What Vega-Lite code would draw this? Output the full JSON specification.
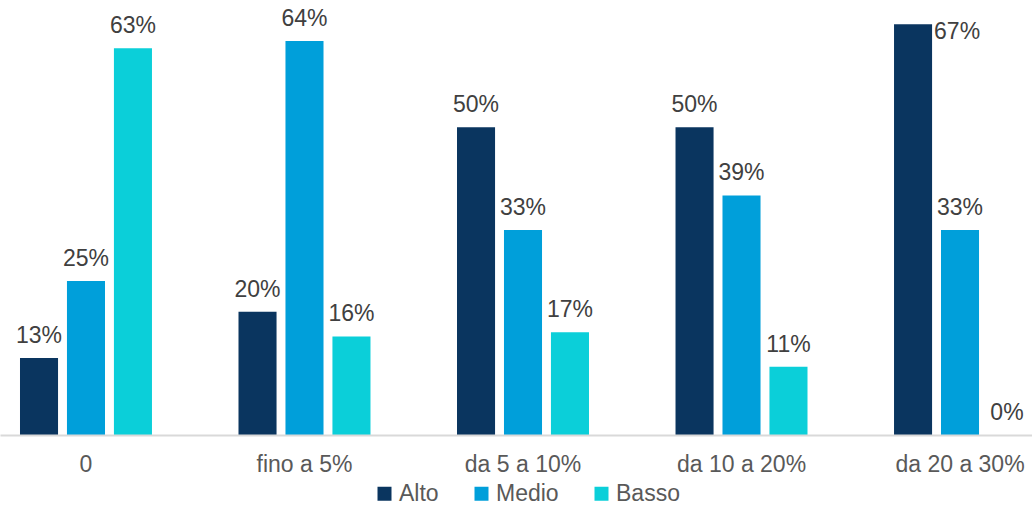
{
  "$schema": "https://vega.github.io/schema/vega-lite/v6.json",
  "width": 1032,
  "height": 431,
  "autosize": {"type": "none"},
  "padding": {"left": 0, "top": 4, "right": 0, "bottom": 70},
  "background": "white",
  "config": {"view": {"stroke": null}, "font": "Liberation Sans"},
  "data": {
    "values": [
      {"cat": "0", "level": "Alto", "value": 0.125},
      {"cat": "0", "level": "Medio", "value": 0.25},
      {"cat": "0", "level": "Basso", "value": 0.628},
      {"cat": "fino a 5%", "level": "Alto", "value": 0.2},
      {"cat": "fino a 5%", "level": "Medio", "value": 0.64},
      {"cat": "fino a 5%", "level": "Basso", "value": 0.16},
      {"cat": "da 5 a 10%", "level": "Alto", "value": 0.5},
      {"cat": "da 5 a 10%", "level": "Medio", "value": 0.333},
      {"cat": "da 5 a 10%", "level": "Basso", "value": 0.167},
      {"cat": "da 10 a 20%", "level": "Alto", "value": 0.5},
      {"cat": "da 10 a 20%", "level": "Medio", "value": 0.389},
      {"cat": "da 10 a 20%", "level": "Basso", "value": 0.111},
      {"cat": "da 20 a 30%", "level": "Alto", "value": 0.667},
      {"cat": "da 20 a 30%", "level": "Medio", "value": 0.333},
      {"cat": "da 20 a 30%", "level": "Basso", "value": 0}
    ]
  },
  "encoding": {
    "x": {
      "field": "cat",
      "type": "nominal",
      "sort": ["0", "fino a 5%", "da 5 a 10%", "da 10 a 20%", "da 20 a 30%"],
      "scale": {"range": [0, 1046], "paddingInner": 0.396, "paddingOuter": 0.0915},
      "axis": {
        "title": null,
        "labelAngle": 0,
        "labelFontSize": 23,
        "labelColor": "#595959",
        "ticks": false,
        "domainColor": "#D9D9D9",
        "domainWidth": 2,
        "labelPadding": 18,
        "zindex": 1
      }
    },
    "xOffset": {
      "field": "level",
      "type": "nominal",
      "sort": ["Alto", "Medio", "Basso"],
      "scale": {"paddingInner": 0.19, "paddingOuter": 0}
    },
    "y": {
      "field": "value",
      "type": "quantitative",
      "scale": {"domain": [0, 0.7]},
      "axis": null
    }
  },
  "layer": [
    {
      "mark": {"type": "bar"},
      "encoding": {
        "color": {
          "field": "level",
          "type": "nominal",
          "sort": ["Alto", "Medio", "Basso"],
          "scale": {"domain": ["Alto", "Medio", "Basso"], "range": ["#0A355F", "#009FDA", "#0BCFD9"]},
          "legend": {
            "orient": "none",
            "legendX": 373,
            "legendY": 478,
            "padding": 0,
            "direction": "horizontal",
            "title": null,
            "symbolType": "square",
            "symbolSize": 196,
            "symbolStrokeWidth": 0,
            "labelFontSize": 23,
            "labelColor": "#595959",
            "labelOffset": 3,
            "columnPadding": 31
          }
        }
      }
    },
    {
      "transform": [{"filter": "datum.value < 0.66"}],
      "mark": {"type": "text", "dy": -15, "baseline": "alphabetic", "fontSize": 23, "color": "#404040"},
      "encoding": {"text": {"field": "value", "format": ".0%"}}
    },
    {
      "transform": [{"filter": "datum.value >= 0.66"}],
      "mark": {"type": "text", "dx": 21, "dy": 15, "align": "left", "baseline": "alphabetic", "fontSize": 23, "color": "#404040"},
      "encoding": {"text": {"field": "value", "format": ".0%"}}
    }
  ]
}
